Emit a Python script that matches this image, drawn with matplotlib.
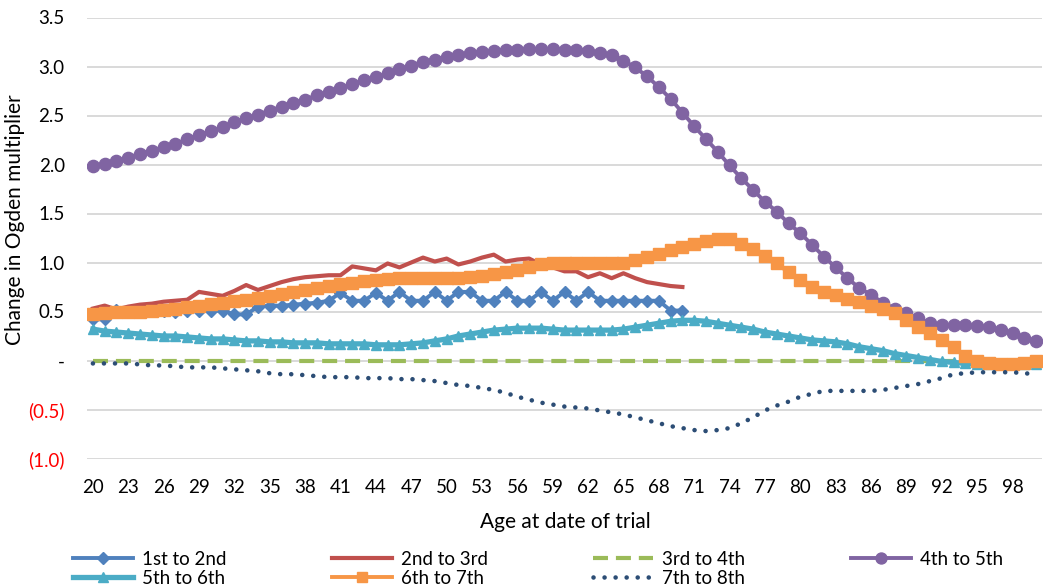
import matplotlib
matplotlib.use("Agg")
import matplotlib.pyplot as plt

plt.rcParams['font.family'] = ['Lato', 'DejaVu Sans']

ages = list(range(20, 101))
ages_short = list(range(20, 71))

s1_first_second = [0.42, 0.42, 0.52, 0.51, 0.51, 0.51, 0.51, 0.50, 0.51, 0.51,
                   0.51, 0.51, 0.47, 0.47, 0.55, 0.56, 0.56, 0.57, 0.58, 0.59,
                   0.61, 0.69, 0.61, 0.61, 0.69, 0.61, 0.70, 0.61, 0.61, 0.70,
                   0.61, 0.70, 0.70, 0.61, 0.61, 0.70, 0.61, 0.61, 0.70, 0.61,
                   0.70, 0.61, 0.70, 0.61, 0.61, 0.61, 0.61, 0.61, 0.61, 0.51,
                   0.51]
s2_second_third = [0.53, 0.56, 0.52, 0.55, 0.57, 0.58, 0.60, 0.61, 0.62, 0.70,
                   0.68, 0.66, 0.71, 0.77, 0.72, 0.76, 0.80, 0.83, 0.85, 0.86,
                   0.87, 0.87, 0.96, 0.94, 0.92, 0.99, 0.95, 1.00, 1.05, 1.01,
                   1.04, 0.98, 1.01, 1.05, 1.08, 1.01, 1.03, 1.04, 0.98, 0.95,
                   0.91, 0.91, 0.85, 0.89, 0.84, 0.89, 0.84, 0.80, 0.78, 0.76,
                   0.75]
s3_third_fourth = [0.0] * 81
s4_fourth_fifth = [1.98, 2.01, 2.04, 2.07, 2.11, 2.14, 2.18, 2.21, 2.26, 2.30,
                   2.34, 2.38, 2.43, 2.47, 2.51, 2.55, 2.59, 2.63, 2.66, 2.71,
                   2.74, 2.78, 2.82, 2.86, 2.89, 2.93, 2.97, 3.01, 3.05, 3.07,
                   3.10, 3.12, 3.14, 3.15, 3.16, 3.17, 3.17, 3.18, 3.18, 3.18,
                   3.17, 3.17, 3.16, 3.14, 3.12, 3.06, 2.99, 2.90, 2.79, 2.67,
                   2.53, 2.39, 2.26, 2.13, 1.99, 1.86, 1.74, 1.62, 1.52, 1.40,
                   1.30, 1.18, 1.06, 0.95, 0.84, 0.74, 0.67, 0.59, 0.53, 0.48,
                   0.43, 0.38, 0.36, 0.36, 0.36, 0.35, 0.34, 0.31, 0.28, 0.23,
                   0.20]
s5_fifth_sixth = [0.32, 0.30, 0.29, 0.28, 0.27, 0.26, 0.25, 0.25, 0.24, 0.23,
                  0.22, 0.22, 0.21, 0.20, 0.20, 0.19, 0.19, 0.18, 0.18, 0.18,
                  0.17, 0.17, 0.17, 0.17, 0.16, 0.16, 0.16, 0.17, 0.18, 0.20,
                  0.22, 0.25, 0.27, 0.29, 0.31, 0.32, 0.33, 0.33, 0.33, 0.32,
                  0.31, 0.31, 0.31, 0.31, 0.31, 0.32, 0.34, 0.36, 0.38, 0.40,
                  0.41, 0.41, 0.40, 0.38, 0.36, 0.34, 0.32, 0.29, 0.27, 0.25,
                  0.23, 0.21, 0.20, 0.19, 0.17, 0.14, 0.12, 0.10, 0.07, 0.05,
                  0.03, 0.01, -0.01, -0.02, -0.03, -0.04, -0.04, -0.04, -0.04, -0.04,
                  -0.04]
s6_sixth_seventh = [0.47, 0.48, 0.49, 0.50, 0.50, 0.51, 0.52, 0.53, 0.55, 0.56,
                    0.58, 0.59, 0.61, 0.62, 0.64, 0.66, 0.68, 0.70, 0.72, 0.74,
                    0.76, 0.78, 0.79, 0.81, 0.82, 0.83, 0.84, 0.84, 0.84, 0.84,
                    0.84, 0.84, 0.85, 0.86, 0.88, 0.90, 0.92, 0.95, 0.98, 1.00,
                    1.00, 1.00, 0.99, 0.99, 0.99, 1.00, 1.03, 1.06, 1.09, 1.13,
                    1.16, 1.19, 1.22, 1.24, 1.24, 1.19, 1.14, 1.07, 0.99, 0.90,
                    0.82, 0.75, 0.70, 0.67, 0.63, 0.60, 0.56, 0.53, 0.48, 0.41,
                    0.34, 0.28, 0.21, 0.14, 0.05, 0.00, -0.03, -0.04, -0.04, -0.03,
                    -0.01]
s7_seventh_eighth = [-0.03, -0.03, -0.03, -0.03, -0.04, -0.05, -0.05, -0.06, -0.07, -0.07,
                     -0.07, -0.08, -0.09, -0.10, -0.11, -0.13, -0.14, -0.14, -0.15, -0.16,
                     -0.17, -0.17, -0.17, -0.18, -0.18, -0.18, -0.19, -0.19, -0.20, -0.21,
                     -0.23, -0.25, -0.26, -0.28, -0.30, -0.33, -0.37, -0.40, -0.43, -0.45,
                     -0.47, -0.48, -0.49, -0.51, -0.53, -0.55, -0.58, -0.61, -0.64, -0.67,
                     -0.69, -0.71, -0.72, -0.71, -0.69, -0.64, -0.58, -0.51, -0.46, -0.42,
                     -0.37, -0.34, -0.31, -0.31, -0.31, -0.31, -0.31, -0.30, -0.28, -0.26,
                     -0.24, -0.21, -0.18, -0.14, -0.13, -0.12, -0.12, -0.12, -0.12, -0.13,
                     -0.14]

series_labels = ['1st to 2nd', '2nd to 3rd', '3rd to 4th', '4th to 5th',
                 '5th to 6th', '6th to 7th', '7th to 8th']
x_ticks = list(range(20, 99, 3))
y_ticks = [-1.0, -0.5, 0.0, 0.5, 1.0, 1.5, 2.0, 2.5, 3.0, 3.5]
y_tick_labels = ['(1.0)', '(0.5)', '-', '0.5', '1.0', '1.5', '2.0', '2.5', '3.0', '3.5']

C_BLUE = '#4F81BD'
C_RED = '#C0504D'
C_GREEN = '#9BBB59'
C_PURPLE = '#8064A2'
C_TEAL = '#4BACC6'
C_ORANGE = '#F79646'
C_NAVY = '#2C4D75'

fig = plt.figure(figsize=(10.47, 5.87), dpi=100)
ax = fig.add_axes([87 / 1047, 1 - 458.5 / 587, 955 / 1047, 441 / 587])

h1, = ax.plot(ages_short, s1_first_second, color=C_BLUE, lw=2.8, marker='D', ms=6.5,
              label=series_labels[0])
h2, = ax.plot(ages_short, s2_second_third, color=C_RED, lw=3.0, label=series_labels[1])
h3, = ax.plot(ages, s3_third_fourth, color=C_GREEN, lw=3.0, dashes=(3.6, 1.9),
              label=series_labels[2])
h4, = ax.plot(ages, s4_fourth_fifth, color=C_PURPLE, lw=2.8, marker='o', ms=8.8,
              label=series_labels[3])
h5, = ax.plot(ages, s5_fifth_sixth, color=C_TEAL, lw=3.8, marker='^', ms=7.5,
              label=series_labels[4])
h6, = ax.plot(ages, s6_sixth_seventh, color=C_ORANGE, lw=2.8, marker='s', ms=8.5,
              label=series_labels[5])
h7, = ax.plot(ages, s7_seventh_eighth, color=C_NAVY, lw=3.3, ls=(0, (0.01, 2.4)),
              dash_capstyle='round', label=series_labels[6])

ax.set_xlim(19.5, 100.5)
ax.set_ylim(-1.0, 3.5)
ax.set_xticks(x_ticks)
ax.set_xticklabels([str(v) for v in x_ticks])
ax.set_yticks(y_ticks)
ax.set_yticklabels(y_tick_labels)
for lbl, val in zip(ax.get_yticklabels(), y_ticks):
    lbl.set_color('#FF0000' if val < 0 else '#000000')
ax.tick_params(axis='both', length=0, labelsize=13.5)
ax.tick_params(axis='y', pad=16)
ax.tick_params(axis='x', pad=15)
ax.grid(axis='y', color='#D9D9D9', lw=1.4)
ax.set_axisbelow(True)
for sp in ax.spines.values():
    sp.set_visible(False)

fig.text(565 / 1047, 1 - 522 / 587, 'Age at date of trial', ha='center', va='center',
         fontsize=15)
fig.text(15 / 1047, 1 - 220 / 587, 'Change in Ogden multiplier', ha='center',
         va='center', rotation=90, fontsize=15)

order = [h1, h5, h2, h6, h3, h7, h4]
leg = fig.legend(handles=order, labels=[h.get_label() for h in order], ncol=4,
                 loc='lower left', bbox_to_anchor=(73 / 1047, 0.0, 930 / 1047, 54 / 587),
                 mode='expand', frameon=False, fontsize=13.5, handlelength=3.2,
                 handletextpad=0.5, borderpad=0.0, borderaxespad=0.0,
                 labelspacing=0.12, markerscale=0.9)

fig.savefig('out.png', dpi=100)
